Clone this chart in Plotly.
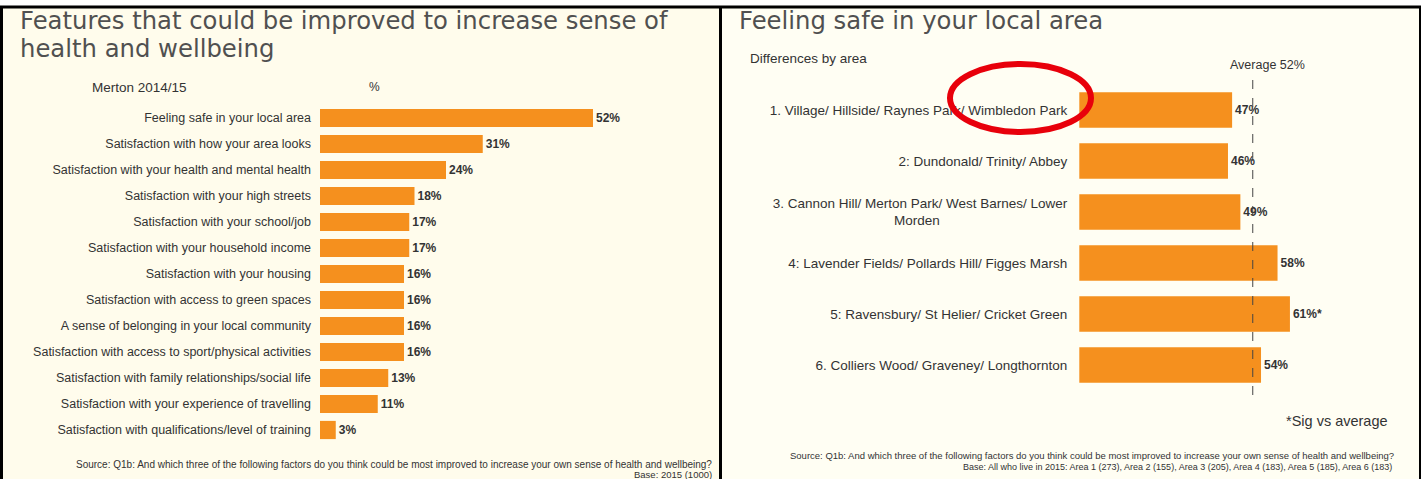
import plotly.graph_objects as go

W, H = 1426, 479

# Left panel: features that could be improved (Merton 2014/15, %)
features = [
    "Feeling safe in your local area",
    "Satisfaction with how your area looks",
    "Satisfaction with your health and mental health",
    "Satisfaction with your high streets",
    "Satisfaction with your school/job",
    "Satisfaction with your household income",
    "Satisfaction with your housing",
    "Satisfaction with access to green spaces",
    "A sense of belonging in your local community",
    "Satisfaction with access to sport/physical activities",
    "Satisfaction with family relationships/social life",
    "Satisfaction with your experience of travelling",
    "Satisfaction with qualifications/level of training",
]
feature_pct = [52, 31, 24, 18, 17, 17, 16, 16, 16, 16, 13, 11, 3]

# Right panel: feeling safe in your local area, by area
NB = "\u00a0"
areas = [
    "1. Village/ Hillside/ Raynes Park/ Wimbledon Park",
    "2: Dundonald/ Trinity/ Abbey",
    "3. Cannon Hill/ Merton Park/ West Barnes/ Lower<br>Morden" + NB * 34,
    "4: Lavender Fields/ Pollards Hill/ Figges Marsh",
    "5: Ravensbury/ St Helier/ Cricket Green",
    "6. Colliers Wood/ Graveney/ Longthornton",
]
area_pct = [47, 46, 49, 58, 61, 54]
area_sig = ["", "", "", "", "*", ""]
average_pct = 52

ORANGE = "#F5901E"
TEXT = "#333333"
SANS = "Liberation Sans, Arial, sans-serif"
HEAD = "DejaVu Sans, Verdana, sans-serif"


def px(x):
    return x / W


def py(y):
    return 1 - y / H


fig = go.Figure()

fig.add_trace(go.Bar(
    x=feature_pct, y=features, orientation="h",
    marker=dict(color=ORANGE, line=dict(width=0)),
    text=[f"<b>{v}%</b>" for v in feature_pct], textposition="outside",
    textfont=dict(family=SANS, size=12, color=TEXT),
    cliponaxis=False, xaxis="x", yaxis="y", hoverinfo="skip",
))

fig.add_trace(go.Bar(
    x=area_pct, y=areas, orientation="h",
    marker=dict(color=ORANGE, line=dict(width=0)),
    text=[f"<b>{v}%{s}</b>" for v, s in zip(area_pct, area_sig)], textposition="outside",
    textfont=dict(family=SANS, size=12, color=TEXT),
    cliponaxis=False, xaxis="x2", yaxis="y2", hoverinfo="skip",
))

axis_common = dict(showgrid=False, zeroline=False, showline=False, fixedrange=True)

fig.update_layout(
    width=W, height=H,
    margin=dict(l=0, r=0, t=0, b=0),
    paper_bgcolor="white", plot_bgcolor="rgba(0,0,0,0)",
    showlegend=False, bargap=0.3,
    xaxis=dict(domain=[px(320), px(687.5)], range=[0, 70], showticklabels=False, **axis_common),
    yaxis=dict(domain=[py(443), py(105)], categoryorder="array", categoryarray=features,
               autorange="reversed", ticks="", ticklabelstandoff=8,
               tickfont=dict(family=SANS, size=12.5, color=TEXT), **axis_common),
    xaxis2=dict(domain=[px(1079.3), px(1409.7)], range=[10, 90], showticklabels=False,
                anchor="y2", **axis_common),
    yaxis2=dict(domain=[py(390.5), py(84.5)], categoryorder="array", categoryarray=areas,
                autorange="reversed", anchor="x2", ticks="", ticklabelstandoff=11,
                tickfont=dict(family=SANS, size=13.5, color=TEXT), **axis_common),
)

shapes = [
    # faint cream panel backgrounds
    dict(type="rect", xref="paper", yref="paper", x0=px(2), x1=px(719), y0=0, y1=py(8),
         fillcolor="#FFFCEC", line=dict(width=0), layer="below"),
    dict(type="rect", xref="paper", yref="paper", x0=px(722), x1=px(1419), y0=0, y1=py(8),
         fillcolor="#FFFEF3", line=dict(width=0), layer="below"),
    # panel frames
    dict(type="line", xref="paper", yref="paper", x0=0, x1=px(1421), y0=py(7), y1=py(7),
         line=dict(color="black", width=3)),
    dict(type="line", xref="paper", yref="paper", x0=px(1.5), x1=px(1.5), y0=0, y1=py(7),
         line=dict(color="black", width=3)),
    dict(type="line", xref="paper", yref="paper", x0=px(720.5), x1=px(720.5), y0=0, y1=py(7),
         line=dict(color="black", width=3)),
    dict(type="line", xref="paper", yref="paper", x0=px(1420), x1=px(1420), y0=0, y1=py(7),
         line=dict(color="black", width=2)),
    # average marker
    dict(type="line", xref="x2", yref="paper", x0=average_pct, x1=average_pct,
         y0=py(395), y1=py(74), line=dict(color="#444444", width=1, dash="dash")),
    # highlight ring
    dict(type="circle", xref="paper", yref="paper", x0=px(950), x1=px(1091),
         y0=py(132), y1=py(64), line=dict(color="#E8000B", width=6)),
]

annotations = [
    dict(text="Features that could be improved to increase sense of",
         x=px(18), y=py(21), xref="paper", yref="paper", xanchor="left", yanchor="middle",
         showarrow=False, font=dict(family=HEAD, size=24.3, color="#505050")),
    dict(text="health and wellbeing",
         x=px(18), y=py(49), xref="paper", yref="paper", xanchor="left", yanchor="middle",
         showarrow=False, font=dict(family=HEAD, size=24.3, color="#505050")),
    dict(text="Merton 2014/15", x=px(90), y=py(87), xref="paper", yref="paper",
         xanchor="left", yanchor="middle", showarrow=False,
         font=dict(family=SANS, size=13.5, color=TEXT)),
    dict(text="%", x=px(374), y=py(87), xref="paper", yref="paper",
         xanchor="center", yanchor="middle", showarrow=False,
         font=dict(family=SANS, size=12, color=TEXT)),
    dict(text="Source: Q1b: And which three of the following factors do you think could be most improved to increase your own sense of health and wellbeing?",
         x=px(714), y=py(464), xref="paper", yref="paper", xanchor="right", yanchor="middle",
         showarrow=False, font=dict(family=SANS, size=10, color=TEXT)),
    dict(text="Base: 2015 (1000)", x=px(714), y=py(474), xref="paper", yref="paper",
         xanchor="right", yanchor="middle", showarrow=False,
         font=dict(family=SANS, size=9.5, color=TEXT)),
    dict(text="Feeling safe in your local area", x=px(737), y=py(21), xref="paper", yref="paper",
         xanchor="left", yanchor="middle", showarrow=False,
         font=dict(family=HEAD, size=24.3, color="#505050")),
    dict(text="Differences by area", x=px(748), y=py(58), xref="paper", yref="paper",
         xanchor="left", yanchor="middle", showarrow=False,
         font=dict(family=SANS, size=13.5, color=TEXT)),
    dict(text=f"Average {average_pct}%", x=px(1267), y=py(65), xref="paper", yref="paper",
         xanchor="center", yanchor="middle", showarrow=False,
         font=dict(family=SANS, size=12.5, color=TEXT)),
    dict(text="*Sig vs average", x=px(1390), y=py(421), xref="paper", yref="paper",
         xanchor="right", yanchor="middle", showarrow=False,
         font=dict(family=SANS, size=14.5, color=TEXT)),
    dict(text="Source: Q1b: And which three of the following factors do you think could be most improved to increase your own sense of health and wellbeing?",
         x=px(1396), y=py(455), xref="paper", yref="paper", xanchor="right", yanchor="middle",
         showarrow=False, font=dict(family=SANS, size=9.5, color=TEXT)),
    dict(text="Base: All who live in 2015: Area 1 (273), Area 2 (155), Area 3 (205), Area 4 (183), Area 5 (185), Area 6 (183)",
         x=px(1394), y=py(467), xref="paper", yref="paper", xanchor="right", yanchor="middle",
         showarrow=False, font=dict(family=SANS, size=9, color=TEXT)),
]

fig.update_layout(shapes=shapes, annotations=annotations)

fig.write_html("out.html")
